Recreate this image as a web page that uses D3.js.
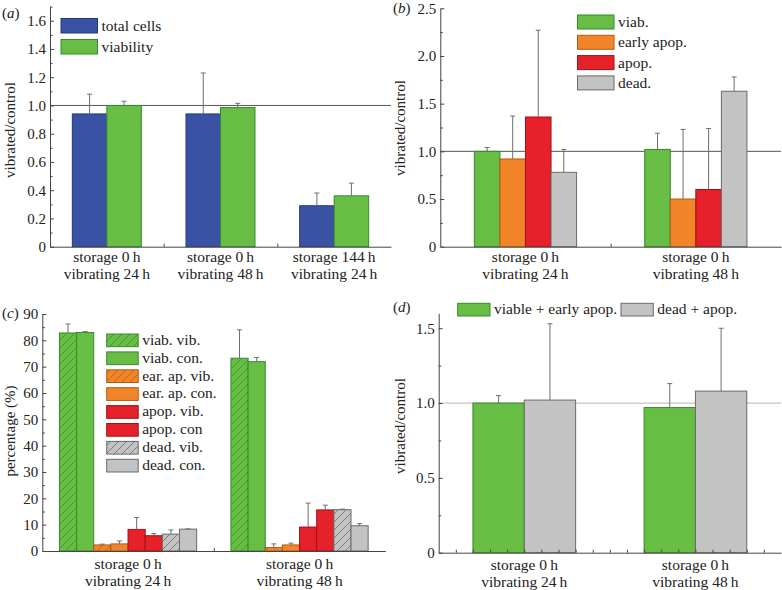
<!DOCTYPE html>
<html><head><meta charset="utf-8">
<script src="https://cdn.jsdelivr.net/npm/d3@7"></script>
<style>
html,body{margin:0;padding:0;background:#fff;}
svg text{font-family:'Liberation Serif','DejaVu Serif',serif;fill:#222;}
</style></head>
<body><svg id="chart" width="782" height="590"></svg>
<script>
// ---------- DATA ----------
const catsA = [["storage 0\u2009h","vibrating 24\u2009h"],["storage 0\u2009h","vibrating 48\u2009h"],["storage 144\u2009h","vibrating 24\u2009h"]];
const catsB = [["storage 0\u2009h","vibrating 24\u2009h"],["storage 0\u2009h","vibrating 48\u2009h"]];
const seriesA = ["total cells","viability"];
const totalCells = [0.94, 0.94, 0.29];
const totalCellsErr = [0.14, 0.29, 0.09];
const viability = [1.00, 0.985, 0.36];
const viabilityErr = [0.03, 0.03, 0.09];

const seriesB = ["viab.","early apop.","apop.","dead."];
const viabB = [1.00, 1.02];      const viabBErr = [0.04, 0.17];
const earlyB = [0.92, 0.50];     const earlyBErr = [0.45, 0.73];
const apopB = [1.36, 0.60];      const apopBErr = [0.91, 0.64];
const deadB = [0.78, 1.63];      const deadBErr = [0.24, 0.15];

const seriesC = ["viab. vib.","viab. con.","ear. ap. vib.","ear. ap. con.","apop. vib.","apop. con","dead. vib.","dead. con."];
const viabVib = [82.8, 73.2];   const viabVibErr = [3.4, 10.8];
const viabCon = [83.0, 71.9];   const viabConErr = [0.3, 1.6];
const earVib = [2.3, 1.3];      const earVibErr = [0.3, 1.4];
const earCon = [2.7, 2.3];      const earConErr = [1.1, 0.7];
const apopVib = [8.2, 9.1];     const apopVibErr = [4.5, 9.1];
const apopCon = [5.8, 15.6];    const apopConErr = [0.8, 1.8];
const deadVib = [6.4, 15.7];    const deadVibErr = [1.6, 0.2];
const deadCon = [8.3, 9.6];     const deadConErr = [0.1, 0.8];

const seriesD = ["viable + early apop.","dead + apop."];
const viabEarlyD = [1.00, 0.97]; const viabEarlyDErr = [0.05, 0.16];
const deadApopD = [1.02, 1.08];  const deadApopDErr = [0.51, 0.42];

const ticksA = [0,0.2,0.4,0.6,0.8,1.0,1.2,1.4,1.6];
const ticksB = [0,0.5,1.0,1.5,2.0,2.5];
const ticksC = [0,10,20,30,40,50,60,70,80,90];
const ticksD = [0,0.5,1.0,1.5];

// ---------- STYLE ----------
const COL = {
  blue:{fill:"#3a52a3",stroke:"#223880"},
  green:{fill:"#68bd45",stroke:"#358a2a"},
  orange:{fill:"#f28529",stroke:"#b45a12"},
  red:{fill:"#e62129",stroke:"#9e1216"},
  gray:{fill:"#c3c3c3",stroke:"#6a6a6a"}
};
const svg = d3.select("#chart");
const defs = svg.append("defs");
function hatch(id, bg, line){
  const p = defs.append("pattern").attr("id",id).attr("patternUnits","userSpaceOnUse")
    .attr("width",8).attr("height",8);
  p.append("rect").attr("width",8).attr("height",8).attr("fill",bg);
  p.append("path").attr("d","M-2,2 L2,-2 M0,8 L8,0 M6,10 L10,6")
    .attr("stroke",line).attr("stroke-width",0.8);
}
hatch("hg", COL.green.fill, "#3f8f30");
hatch("ho", COL.orange.fill, "#b9600f");
hatch("hr", COL.red.fill, COL.red.fill);
hatch("hgr", COL.gray.fill, "#6f6f6f");

const AX = "#444";

function panel(o){
  const g = svg.append("g");
  const x = d3.scaleBand().domain(d3.range(o.cats.length)).range(o.xr).paddingInner(0).paddingOuter(0);
  const y = d3.scaleLinear().domain(o.yd).range(o.yr);
  const gw = x.bandwidth()*o.groupFrac;
  const x1 = d3.scaleBand().domain(d3.range(o.series.length)).range([-gw/2, gw/2]);

  if (o.ref !== undefined){
    g.append("line").attr("x1",o.xr[0]).attr("x2",o.xr[1]).attr("y1",y(o.ref)).attr("y2",y(o.ref))
      .attr("stroke",o.refColor).attr("stroke-width",1);
  }
  o.series.forEach((s,si)=>{
    const vals = o.values[si], errs = o.errs[si];
    const st = o.styles[si];
    g.append("g").selectAll("rect").data(vals).join("rect")
      .attr("x",(d,i)=>x(i)+x.bandwidth()/2+x1(si))
      .attr("width",x1.bandwidth())
      .attr("y",d=>y(d)).attr("height",d=>y(0)-y(d))
      .attr("fill",st.fill).attr("stroke",st.stroke).attr("stroke-width",1);
    const eg = g.append("g").attr("stroke","#6e6e6e").attr("stroke-width",1);
    vals.forEach((v,i)=>{
      const cx = x(i)+x.bandwidth()/2+x1(si)+x1.bandwidth()/2;
      eg.append("line").attr("x1",cx).attr("x2",cx).attr("y1",y(v)).attr("y2",y(v+errs[i]));
      eg.append("line").attr("x1",cx-2.5).attr("x2",cx+2.5).attr("y1",y(v+errs[i])).attr("y2",y(v+errs[i]));
    });
  });
  const ya = g.append("g").attr("transform",`translate(${o.xr[0]},0)`)
    .call(d3.axisLeft(y).tickValues(o.ticks).tickFormat(o.fmt).tickSizeInner(-4).tickSizeOuter(0).tickPadding(4));
  ya.select(".domain").attr("stroke",AX);
  ya.selectAll(".tick line").attr("stroke",AX);
  ya.selectAll(".tick text").attr("font-size",15).attr("font-family","'Liberation Serif',serif").attr("fill","#222");
  const ym = g.append("g").attr("transform",`translate(${o.xr[0]},0)`)
    .call(d3.axisLeft(y).tickValues(o.minor).tickFormat("").tickSizeInner(-2.5).tickSizeOuter(0));
  ym.select(".domain").remove();
  ym.selectAll(".tick line").attr("stroke",AX);
  const xl = d3.scaleLinear().domain([0,o.xTickN]).range(o.xr);
  const xa = g.append("g").attr("transform",`translate(0,${y(0)})`)
    .call(d3.axisBottom(xl).tickValues(d3.range(1,o.xTickN)).tickFormat("").tickSizeInner(-3).tickSizeOuter(0));
  xa.select(".domain").attr("stroke",AX);
  xa.selectAll(".tick line").attr("stroke",AX);
  o.cats.forEach((c,i)=>{
    const t = g.append("text").attr("x",x(i)+x.bandwidth()/2).attr("text-anchor","middle").attr("font-size",15.5);
    t.append("tspan").attr("x",x(i)+x.bandwidth()/2).attr("y",y(0)+o.lab1).text(c[0]);
    t.append("tspan").attr("x",x(i)+x.bandwidth()/2).attr("y",y(0)+o.lab1+17).text(c[1]);
  });
  g.append("text").attr("transform",`translate(${o.yl[0]},${o.yl[1]}) rotate(-90)`)
    .attr("text-anchor","middle").attr("font-size",15).text(o.ylabel);
  const pl = g.append("text").attr("x",o.pl[0]).attr("y",o.pl[1]).attr("font-size",15);
  pl.append("tspan").text("(");
  pl.append("tspan").attr("font-style","italic").text(o.letter);
  pl.append("tspan").text(")");
  o.series.forEach((s,si)=>{
    const lx = o.leg.x + (o.leg.dx||0)*si, ly = o.leg.y + (o.leg.dy||0)*si;
    g.append("rect").attr("x",lx).attr("y",ly).attr("width",o.leg.w).attr("height",o.leg.h)
      .attr("fill",o.styles[si].fill).attr("stroke",o.styles[si].stroke).attr("stroke-width",1);
    g.append("text").attr("x",lx+o.leg.w+4).attr("y",ly+o.leg.h-2).attr("font-size",15.5).text(s);
  });
}

const fmt1 = d=> d===0 ? "0" : d3.format(".1f")(d);

panel({
  letter:"a", pl:[2,18], cats:catsA, series:seriesA,
  values:[totalCells, viability], errs:[totalCellsErr, viabilityErr],
  styles:[COL.blue, COL.green],
  xr:[50,391], yd:[0,1.7], yr:[246.7,6.6], groupFrac:0.607,
  ticks:ticksA, minor:[0.1,0.3,0.5,0.7,0.9,1.1,1.3,1.5,1.7], fmt:fmt1,
  ref:1.0, refColor:"#555", xTickN:3, lab1:15, yl:[15,130], ylabel:"vibrated/control",
  leg:{x:61,y:18.5,dy:21,w:36.5,h:14.5}
});
panel({
  letter:"b", pl:[393,13], cats:catsB, series:seriesB,
  values:[viabB, earlyB, apopB, deadB], errs:[viabBErr, earlyBErr, apopBErr, deadBErr],
  styles:[COL.green, COL.orange, COL.red, COL.gray],
  xr:[440.3,781], yd:[0,2.5], yr:[246.7,8.3], groupFrac:0.6,
  ticks:ticksB, minor:[0.25,0.75,1.25,1.75,2.25], fmt:fmt1,
  ref:1.0, refColor:"#555", xTickN:2, lab1:15, yl:[405,128], ylabel:"vibrated/control",
  leg:{x:577.5,y:15,dy:20.3,w:36.5,h:14}
});
panel({
  letter:"c", pl:[2,318], cats:catsB, series:seriesC,
  values:[viabVib, viabCon, earVib, earCon, apopVib, apopCon, deadVib, deadCon],
  errs:[viabVibErr, viabConErr, earVibErr, earConErr, apopVibErr, apopConErr, deadVibErr, deadConErr],
  styles:[{fill:"url(#hg)",stroke:COL.green.stroke}, COL.green,
          {fill:"url(#ho)",stroke:COL.orange.stroke}, COL.orange,
          {fill:"url(#hr)",stroke:COL.red.stroke}, COL.red,
          {fill:"url(#hgr)",stroke:COL.gray.stroke}, COL.gray],
  xr:[42.3,385.3], yd:[0,90], yr:[551,314], groupFrac:0.8,
  ticks:ticksC, minor:[5,15,25,35,45,55,65,75,85], fmt:d=>String(d),
  xTickN:2, lab1:18, yl:[15,431], ylabel:"percentage (%)",
  leg:{x:106.7,y:334,dy:17.9,w:31.5,h:12.7}
});
panel({
  letter:"d", pl:[393,312], cats:catsB, series:seriesD,
  values:[viabEarlyD, deadApopD], errs:[viabEarlyDErr, deadApopDErr],
  styles:[COL.green, COL.gray],
  xr:[438.7,781], yd:[0,1.6], yr:[552.7,313.3], groupFrac:0.6,
  ticks:ticksD, minor:[0.25,0.75,1.25], fmt:fmt1,
  ref:1.0, refColor:"#b5b5b5", xTickN:20, lab1:17, yl:[405,426], ylabel:"vibrated/control",
  leg:{x:457.7,y:303.3,dx:163.3,w:32.3,h:12.7}
});
</script>
</body></html>
